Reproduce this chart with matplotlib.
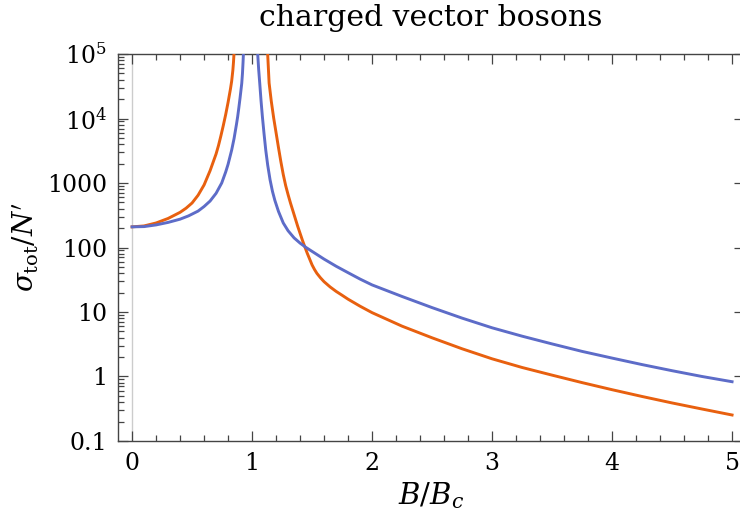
#!/usr/bin/env python3
"""Total cross section of charged vector bosons vs field strength."""

import matplotlib

matplotlib.use("Agg")
import matplotlib.pyplot as plt
from matplotlib.ticker import FixedLocator, FixedFormatter, NullFormatter

# values (x = B/Bc, y = sigma_tot/N')
orange_left_x = [0.00, 0.10, 0.20, 0.30, 0.40, 0.45, 0.50, 0.55, 0.60, 0.65, 0.70,
                 0.72, 0.74, 0.76, 0.78, 0.80, 0.82, 0.83, 0.84, 0.845, 0.85, 0.86]
orange_left_y = [209, 216, 240, 282, 351, 407, 490, 646, 933, 1550, 2820,
                 3800, 5370, 7760, 11500, 17800, 28800, 38000, 56200, 74100, 105000, 282000]

orange_right_x = [1.12, 1.13, 1.142, 1.16, 1.18, 1.20, 1.22, 1.24, 1.26, 1.28, 1.30,
                  1.32, 1.34, 1.36, 1.38, 1.40, 1.42, 1.44, 1.46, 1.48, 1.50, 1.52,
                  1.54, 1.57, 1.60, 1.65, 1.70, 1.75, 1.80, 1.90, 2.00, 2.25, 2.50,
                  2.75, 3.00, 3.25, 3.50, 3.75, 4.00, 4.25, 4.50, 4.75, 5.00]
orange_right_y = [251000, 100000, 35500, 18600, 10200, 6030, 3550, 2140, 1350, 912, 661,
                  490, 372, 282, 214, 166, 129, 102, 81.3, 66.1, 53.7, 45.7,
                  39.8, 33.9, 29.5, 24.5, 20.9, 18.2, 15.8, 12.3, 9.77, 6.03, 3.98,
                  2.69, 1.88, 1.38, 1.05, 0.804, 0.624, 0.490, 0.389, 0.313, 0.253]

blue_left_x = [0.00, 0.10, 0.20, 0.30, 0.40, 0.47, 0.55, 0.60, 0.65, 0.70, 0.747,
               0.78, 0.80, 0.83, 0.85, 0.87, 0.88, 0.89, 0.90, 0.914, 0.92, 0.925,
               0.93, 0.94]
blue_left_y = [209, 211, 224, 245, 275, 309, 367, 432, 525, 692, 1000,
               1480, 1950, 3240, 4900, 8130, 10700, 14800, 20900, 35100, 50100, 75900,
               126000, 398000]

blue_right_x = [1.04, 1.047, 1.055, 1.064, 1.075, 1.086, 1.10, 1.114, 1.13, 1.15,
                1.17, 1.19, 1.22, 1.26, 1.30, 1.35, 1.40, 1.45, 1.50, 1.60,
                1.70, 1.80, 1.90, 2.00, 2.25, 2.50, 2.75, 3.00, 3.25, 3.50,
                3.75, 4.00, 4.25, 4.50, 4.75, 5.00]
blue_right_y = [200000, 100000, 57500, 35100, 18600, 10700, 5750, 3240, 1905, 1120,
                741, 537, 363, 240, 182, 141, 117, 100, 87.1, 66.1,
                51.3, 40.7, 32.4, 26.3, 17.4, 11.7, 8.04, 5.69, 4.22, 3.20,
                2.45, 1.93, 1.53, 1.23, 1.00, 0.83]

y_ticks = [0.1, 1, 10, 100, 1000, 1e4, 1e5]
y_labels = ["0.1", "1", "10", "100", "1000", r"$10^4$", r"$10^5$"]
x_ticks = [0, 1, 2, 3, 4, 5]

ORANGE = "#E8600F"
BLUE = "#5D6CC8"
FRAME = "#444444"

plt.rcParams["font.family"] = ["DejaVu Serif"]
plt.rcParams["mathtext.fontset"] = "dejavuserif"

fig = plt.figure(figsize=(7.4, 5.27), dpi=100)
ax = fig.add_axes([0.1595, 0.1632, 0.846, 0.7343])

ax.axvline(0, color="#cccccc", lw=1.0, zorder=1)
ax.plot(orange_left_x, orange_left_y, color=ORANGE, lw=2.1, zorder=3)
ax.plot(orange_right_x, orange_right_y, color=ORANGE, lw=2.1, zorder=3)
ax.plot(blue_left_x, blue_left_y, color=BLUE, lw=2.1, zorder=4)
ax.plot(blue_right_x, blue_right_y, color=BLUE, lw=2.1, zorder=4)

ax.set_yscale("log")
ax.set_xlim(-0.117, 5.1)
ax.set_ylim(0.1, 1e5)

ax.yaxis.set_major_locator(FixedLocator(y_ticks))
ax.yaxis.set_major_formatter(FixedFormatter(y_labels))
minor_y = [m * 10.0 ** e for e in range(-1, 5) for m in range(2, 10)]
ax.yaxis.set_minor_locator(FixedLocator(minor_y))
ax.yaxis.set_minor_formatter(NullFormatter())

ax.set_xticks(x_ticks)
ax.set_xticklabels([str(v) for v in x_ticks])
ax.set_xticks([i * 0.2 for i in range(26) if i % 5], minor=True)

for side in ax.spines.values():
    side.set_color(FRAME)
    side.set_linewidth(1.0)

ax.tick_params(which="both", direction="in", colors=FRAME, labelcolor="black",
               top=True, right=True, labelsize=17, width=0.9)
ax.tick_params(which="major", length=7, pad=8)
ax.tick_params(which="minor", length=4)
ax.tick_params(axis="y", which="minor", right=False)

ax.set_title("charged vector bosons", fontsize=21.5, pad=20)
ax.set_xlabel(r"$B/B_c$", fontsize=21, labelpad=4)
ax.set_ylabel(r"$\sigma_{\mathrm{tot}}/N^{\prime}$", fontsize=20, labelpad=4)

fig.savefig("out.png", dpi=100)
